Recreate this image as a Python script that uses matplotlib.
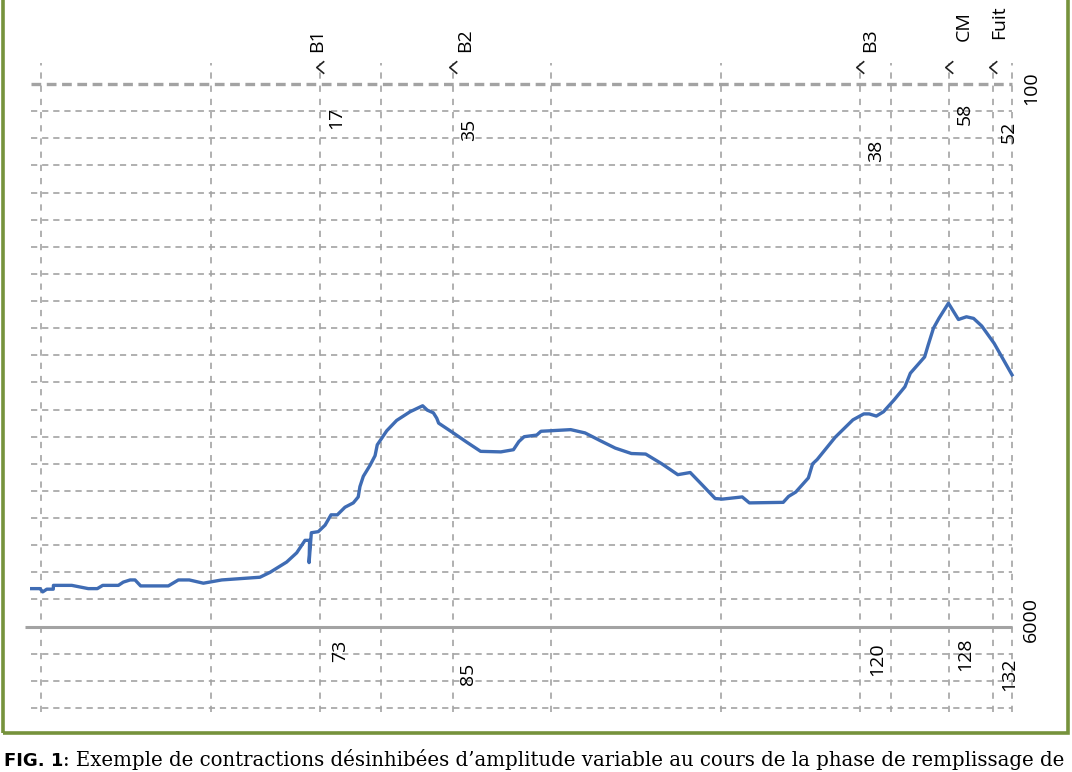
import matplotlib
matplotlib.use('Agg')
import matplotlib.pyplot as plt
from matplotlib.patches import Rectangle
from matplotlib.path import Path

plt.rcParams['lines.scale_dashes'] = False
plt.rcParams['font.family'] = ['Open Sans', 'DejaVu Sans']

# pressure trace (time in s, pressure in cmH2O)
time = [-55, -6, 10, 34, 72, 73, 181, 278, 331, 363, 455, 484, 524, 553, 586,
        749, 808, 872, 955, 1063, 1288, 1347, 1445, 1504, 1553, 1580, 1577, 1590,
        1631, 1671, 1706, 1743, 1788, 1837, 1866, 1876, 1896, 1935, 1965, 1978,
        2034, 2092, 2171, 2245, 2272, 2308, 2328, 2339, 2425, 2504, 2586, 2705,
        2779, 2811, 2842, 2916, 2941, 3000, 3116, 3200, 3294, 3378, 3473, 3557,
        3652, 3746, 3819, 3893, 3966, 4009, 4125, 4167, 4366, 4398, 4440, 4514,
        4539, 4566, 4672, 4776, 4840, 4872, 4914, 4956, 5019, 5082, 5114, 5198,
        5219, 5250, 5282, 5338, 5397, 5444, 5486, 5534, 5607, 5712]
pressure = [7.0, 7.0, 6.4, 6.9, 6.9, 7.6, 7.6, 7.0, 7.0, 7.6, 7.6, 8.2, 8.6, 8.6, 7.5,
            7.5, 8.6, 8.6, 8.0, 8.6, 9.1, 10.0, 11.9, 13.6, 15.9, 15.9, 11.8, 17.3,
            17.5, 18.7, 20.6, 20.6, 22.0, 22.8, 23.9, 25.8, 27.7, 29.7, 31.5, 33.5,
            36.1, 38.0, 39.6, 40.7, 39.9, 39.4, 38.4, 37.5, 35.7, 34.0, 32.3, 32.2,
            32.6, 34.1, 35.0, 35.3, 36.0, 36.1, 36.3, 35.7, 34.2, 32.9, 31.9, 31.8,
            30.0, 28.0, 28.4, 26.0, 23.6, 23.5, 23.9, 22.8, 22.9, 24.0, 24.8, 27.4,
            30.0, 30.8, 34.9, 38.1, 39.2, 39.2, 38.8, 39.6, 41.8, 44.2, 46.7, 49.7,
            51.9, 55.0, 56.8, 59.6, 56.6, 57.1, 56.8, 55.4, 52.2, 46.4]

events = ['B1', 'B2', 'B3', 'CM', 'Fuit']
event_time = [1641, 2424, 4818, 5341, 5600]
event_pressure = ['17', '35', '38', '58', '52']
event_volume = ['73', '85', '120', '128', '132']
grid_time = [0, 1000, 2000, 3000, 4000, 5000]
t_max = 5712
p_max_label = '100'
t_max_label = '6000'

caption_head = 'FIG. 1'
caption = ': Exemple de contractions désinhibées d\u2019amplitude variable au cours de la phase de remplissage de'

W, H = 1072, 772
fig = plt.figure(figsize=(W / 100, H / 100), dpi=100)
ax = fig.add_axes([31 / W, (H - 708) / H, (1012 - 31) / W, (708 - 84) / H])
ax.set_xlim(-59, t_max)
ax.set_ylim(-15, 100)
ax.axis('off')

grey = '#a3a3a3'
# horizontal grid
for y in range(-15, 101, 5):
    if y == 0:
        continue
    if y == 100:
        ax.hlines(y, -59, t_max, colors=grey, lw=2.4, linestyles=(0, (7, 4)), clip_on=False)
    else:
        ax.hlines(y, -59, t_max, colors=grey, lw=1.2, linestyles=(0, (4.5, 3.5)), clip_on=False)
# vertical grid (regular + events + end)
for t in grid_time + event_time + [t_max]:
    ax.vlines(t, -15.8, 103.9, colors=grey, lw=1.2, linestyles=(0, (4.5, 5)), clip_on=False)
# baseline
ax.hlines(0, -94, t_max, colors=grey, lw=2.2, clip_on=False)

ax.plot(time, pressure, color='#3f6cb4', lw=2.4, solid_joinstyle='round', clip_on=False)

# event arrow heads
chevron = Path([(0.6, 1), (-0.6, 0), (0.6, -1)], [Path.MOVETO, Path.LINETO, Path.LINETO])
ax.plot(event_time, [103.2] * len(event_time), ls='none', marker=chevron, ms=9,
        mfc='none', mec='#222222', mew=1.2, clip_on=False)

# labels
fs = 14
name_dx = [-3, 12, 10, 15, 6]
name_y = [108.1, 108.1, 108.1, 110.7, 111.3]
p_y = [93.8, 91.6, 87.6, 94.5, 91.2]
v_y = [-4.5, -8.7, -6.0, -5.1, -8.7]
v_dx = [20, 15, 17, 16, 16]
for i, t in enumerate(event_time):
    ax.annotate(events[i], (t, name_y[i]), xytext=(name_dx[i] * 0.72, 0), textcoords='offset points',
                rotation=90, ha='center', va='center', fontsize=fs, annotation_clip=False)
    ax.annotate(event_pressure[i], (t, p_y[i]), xytext=(16 * 0.72, 0), textcoords='offset points',
                rotation=90, ha='center', va='center', fontsize=fs, annotation_clip=False)
    ax.annotate(event_volume[i], (t, v_y[i]), xytext=(v_dx[i] * 0.72, 0), textcoords='offset points',
                rotation=90, ha='center', va='center', fontsize=fs, annotation_clip=False)
ax.annotate(p_max_label, (t_max, 99.3), xytext=(19 * 0.72, 0), textcoords='offset points',
            rotation=90, ha='center', va='center', fontsize=fs, annotation_clip=False)
ax.annotate(t_max_label, (t_max, 1.3), xytext=(19 * 0.72, 0), textcoords='offset points',
            rotation=90, ha='center', va='center', fontsize=fs, annotation_clip=False)

# green frame
fig.patches.append(Rectangle((3 / W, (H - 733) / H), (1068 - 3) / W, 1.2,
                             transform=fig.transFigure, fill=False, ec='#76923c', lw=2.6))

# caption
fig.text(4 / W, 1 - 770 / H, caption_head, fontsize=13, fontweight='bold', family='DejaVu Sans',
         va='bottom', ha='left')
fig.text(63 / W, 1 - 770 / H, caption, fontsize=14.2, family='DejaVu Serif', va='bottom', ha='left')

fig.savefig('out.png', dpi=100)
